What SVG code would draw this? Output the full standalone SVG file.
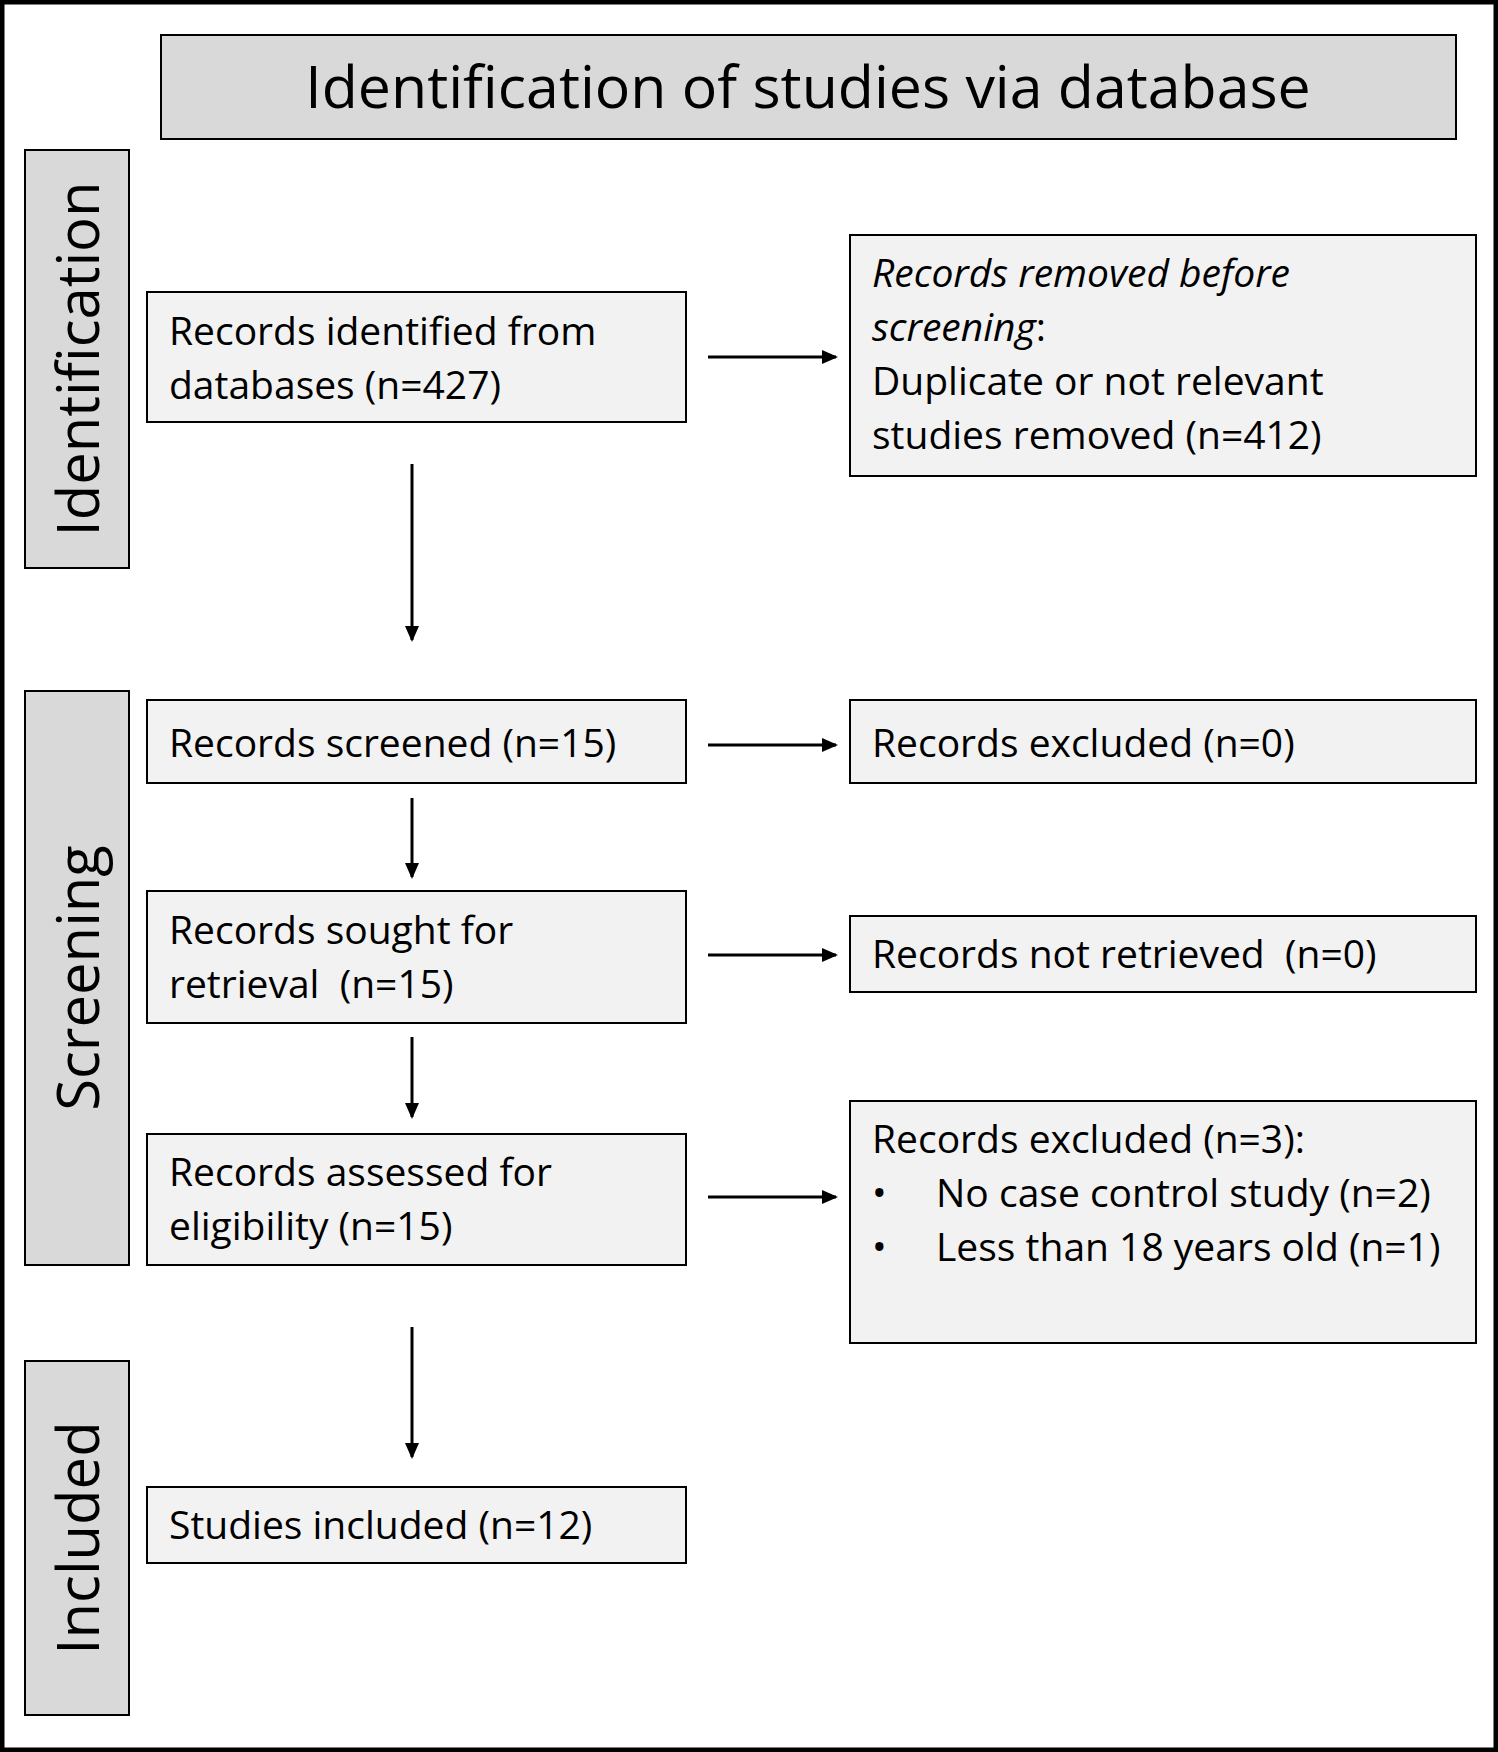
<svg xmlns="http://www.w3.org/2000/svg" width="1498" height="1752" viewBox="0 0 1498 1752">
<defs>
<style>
.b{fill:#f2f2f2;stroke:#000;stroke-width:2}
.s{fill:#d9d9d9;stroke:#000;stroke-width:2}
text{font-family:"Open Sans","Liberation Sans",Arial,sans-serif;fill:#000}
.t{font-size:39px}
.side{font-size:58px}
.c{stroke:#000;stroke-width:3;fill:none;marker-end:url(#a)}
</style>
<marker id="a" markerWidth="16" markerHeight="16" refX="14" refY="8" orient="auto" markerUnits="userSpaceOnUse" viewBox="0 0 16 16"><path d="M0,1L16,8L0,15z" fill="#000"/></marker>
</defs>
<rect x="0" y="0" width="1498" height="1752" fill="#fff"/>
<rect x="2" y="2" width="1494" height="1748" fill="none" stroke="#000" stroke-width="5"/>
<g id="title"><rect class="s" x="161" y="35" width="1295" height="104"/><text x="808" y="108" text-anchor="middle" font-size="59">Identification of studies via database</text></g>
<g id="sideIdent"><rect class="s" x="25" y="150" width="104" height="418"/><text class="side" transform="translate(99,359) rotate(-90)" text-anchor="middle">Identification</text></g>
<g id="sideScreen"><rect class="s" x="25" y="691" width="104" height="574"/><text class="side" transform="translate(99,978) rotate(-90)" text-anchor="middle">Screening</text></g>
<g id="sideIncl"><rect class="s" x="25" y="1361" width="104" height="354"/><text class="side" transform="translate(99,1538) rotate(-90)" text-anchor="middle">Included</text></g>
<g id="n1"><rect class="b" x="147" y="292" width="539" height="130"/><text class="t" x="169" y="345">Records identified from</text><text class="t" x="169" y="399">databases (n=427)</text></g>
<g id="n2"><rect class="b" x="850" y="235" width="626" height="241"/><text class="t" x="872" y="287" font-style="italic">Records removed before</text><text class="t" x="872" y="341"><tspan font-style="italic">screening</tspan>:</text><text class="t" x="872" y="395">Duplicate or not relevant</text><text class="t" x="872" y="449">studies removed (n=412)</text></g>
<g id="n3"><rect class="b" x="147" y="700" width="539" height="83"/><text class="t" x="169" y="757">Records screened (n=15)</text></g>
<g id="n4"><rect class="b" x="850" y="700" width="626" height="83"/><text class="t" x="872" y="757">Records excluded (n=0)</text></g>
<g id="n5"><rect class="b" x="147" y="891" width="539" height="132"/><text class="t" x="169" y="944">Records sought for</text><text class="t" x="169" y="998" xml:space="preserve">retrieval  (n=15)</text></g>
<g id="n6"><rect class="b" x="850" y="916" width="626" height="76"/><text class="t" x="872" y="968" xml:space="preserve">Records not retrieved  (n=0)</text></g>
<g id="n7"><rect class="b" x="147" y="1134" width="539" height="131"/><text class="t" x="169" y="1186">Records assessed for</text><text class="t" x="169" y="1240">eligibility (n=15)</text></g>
<g id="n8"><rect class="b" x="850" y="1101" width="626" height="242"/><text class="t" x="872" y="1153">Records excluded (n=3):</text><text class="t" x="872" y="1207">•</text><text class="t" x="936" y="1207">No case control study (n=2)</text><text class="t" x="872" y="1261">•</text><text class="t" x="936" y="1261">Less than 18 years old (n=1)</text></g>
<g id="n9"><rect class="b" x="147" y="1487" width="539" height="76"/><text class="t" x="169" y="1539">Studies included (n=12)</text></g>
<g id="connectors">
<line class="c" x1="708" y1="357" x2="836" y2="357"/>
<line class="c" x1="708" y1="745" x2="836" y2="745"/>
<line class="c" x1="708" y1="955" x2="836" y2="955"/>
<line class="c" x1="708" y1="1197" x2="836" y2="1197"/>
<line class="c" x1="412" y1="464" x2="412" y2="640"/>
<line class="c" x1="412" y1="798" x2="412" y2="877"/>
<line class="c" x1="412" y1="1037" x2="412" y2="1117"/>
<line class="c" x1="412" y1="1327" x2="412" y2="1457"/>
</g>
</svg>
